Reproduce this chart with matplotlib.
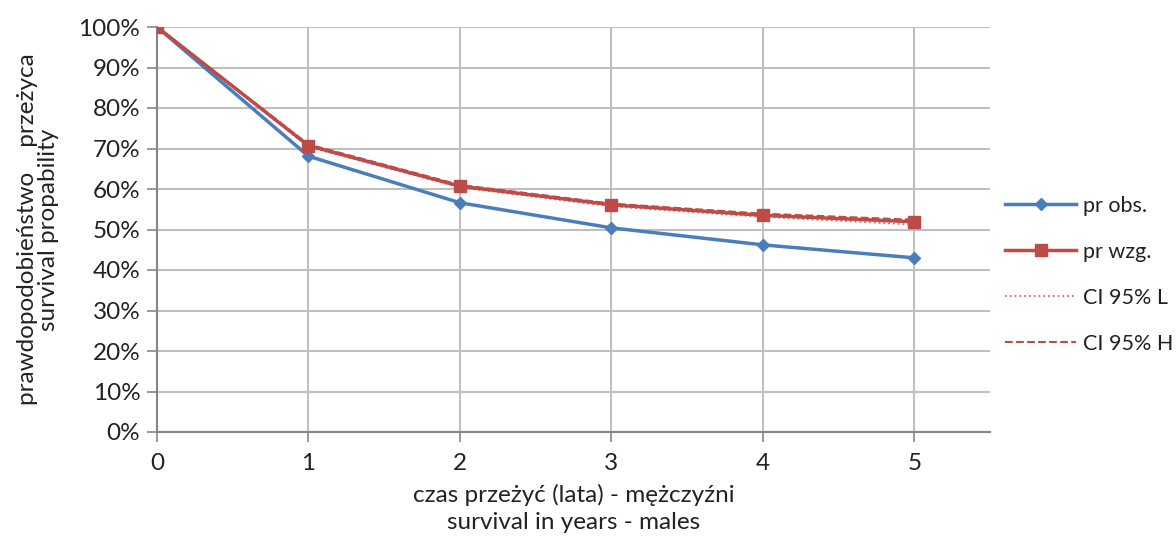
import matplotlib
matplotlib.use("Agg")
import matplotlib.pyplot as plt
from matplotlib.ticker import PercentFormatter

years = [0, 1, 2, 3, 4, 5]
pr_obs = [100, 68.1, 56.6, 50.4, 46.2, 43.0]
pr_wzg = [100, 70.7, 60.7, 56.1, 53.5, 51.9]
ci_low = [100, 70.4, 60.4, 55.7, 53.1, 51.2]
ci_high = [100, 71.0, 61.0, 56.4, 53.9, 52.4]

plt.rcParams['font.family'] = ['Lato', 'DejaVu Sans']

fig = plt.figure(figsize=(11.76, 5.4), dpi=100)
ax = fig.add_axes([0.1335, 0.2, 0.7085, 0.75])

blue = '#4A7EBB'
red = '#BE4B48'
fs = 17.5

ax.plot(years, ci_low, linestyle=':', color='#E06666', lw=1.3, label='CI 95% L', zorder=3)
ax.plot(years, ci_high, linestyle='--', color=red, lw=1.5, label='CI 95% H', zorder=3)
ax.plot(years, pr_obs, color=blue, lw=2.5, marker='D', markersize=6.5, label='pr obs.', zorder=4)
ax.plot(years, pr_wzg, color=red, lw=2.5, marker='s', markersize=8, label='pr wzg.', zorder=5)

ax.set_xlim(0, 5.5)
ax.set_ylim(0, 100)
ax.set_xticks(years)
ax.set_yticks(range(0, 101, 10))
ax.yaxis.set_major_formatter(PercentFormatter(decimals=0))
ax.grid(True, color='#BFBFBF', lw=1.5)
ax.set_axisbelow(True)
for s in ['top', 'right']:
    ax.spines[s].set_visible(False)
for s in ['left', 'bottom']:
    ax.spines[s].set_color('#868686')
    ax.spines[s].set_linewidth(1.5)
ax.tick_params(axis='both', colors='#868686', labelcolor='#222222', labelsize=fs,
               direction='out', length=7, width=1.2)
ax.tick_params(axis='y', pad=5)
ax.tick_params(axis='x', pad=8)

ax.set_xlabel('czas przeżyć (lata) - mężczyźni\nsurvival in years - males', fontsize=fs,
              color='#222222', linespacing=1.4, labelpad=7)
ax.set_ylabel('prawdopodobieństwo    przeżyca\nsurvival propability', fontsize=fs,
              color='#222222', linespacing=1.0, labelpad=14)

h, lab = ax.get_legend_handles_labels()
order = [2, 3, 0, 1]
fig.legend([h[i] for i in order], [lab[i] for i in order], loc='upper left',
           bbox_to_anchor=(0.851, 0.645), frameon=False, fontsize=15.5,
           handlelength=3.3, labelspacing=1.2, handletextpad=0.3,
           borderaxespad=0, borderpad=0.2, labelcolor='#222222')

fig.savefig('out.png', dpi=100)
